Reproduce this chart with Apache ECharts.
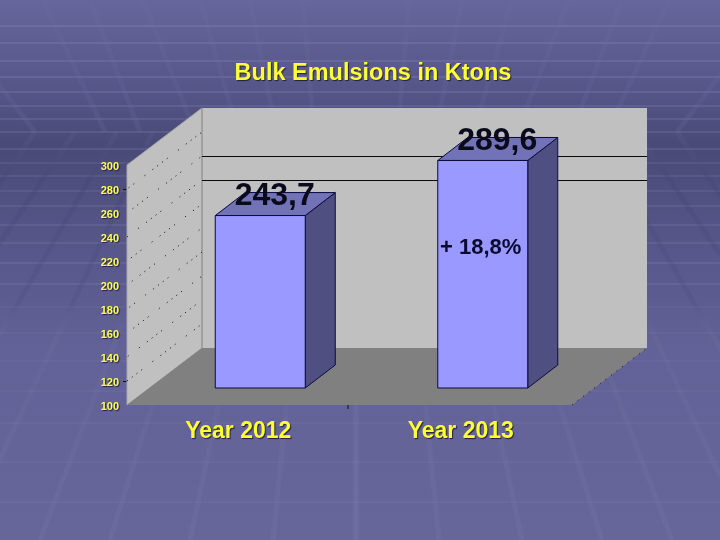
<!DOCTYPE html>
<html>
<head>
<meta charset="utf-8">
<style>html,body{margin:0;padding:0;background:#5f5f94}#c{width:720px;height:540px}</style>
<script src="https://cdn.jsdelivr.net/npm/echarts@6/dist/echarts.min.js"></script>
</head>
<body>
<div id="c"></div>
<script>
var categories = ['Year 2012', 'Year 2013'];
var bulkKtons = [243.7, 289.6];
var changeLabels = ['', '+ 18,8%'];
var wallSolidLines = [240, 260];
var wallDottedLines = [120, 140, 160, 180, 200, 220, 240, 260, 280];
var yTickMarks = [120, 280];

var FONT = '"Liberation Sans", Arial, sans-serif';
var YELLOW = '#ffff33';
var DEPTH_X = 75, DEPTH_Y = -57;
var BAR_W = 90, BAR_DX = 30, BAR_DY = -23, BAR_SHIFT_X = 22, BAR_SHIFT_Y = -17;
var OUTLINE = '#0a0a40';

// decorative slide backdrop
var HORIZON = 132, AXIS_MID = 356;
var bandsY = [26,43,61,77,92,106,119,132,149,163,176,191,206,225,243,263,284,307,333,361,391,423,462,502];
var upperRays = [[-65,35],[43,105],[90,140],[143,195],[200,238],[250,276],[303,314]];
var lowerRays = [[35,-242],[75,-202],[117,-119],[153,-38],[195,40],[238,110],[276,190],[314,273],[356,357]];

function backdrop() {
  var els = [{
    type: 'rect', z: -20, silent: true,
    shape: {x: 0, y: 0, width: 720, height: 540},
    style: {fill: new echarts.graphic.LinearGradient(0, 0, 0, 1, [
      {offset: 0, color: '#66669c'},
      {offset: 0.12, color: '#5a5a8e'},
      {offset: 0.27, color: '#4a4a78'},
      {offset: 0.45, color: '#565689'},
      {offset: 0.65, color: '#626298'},
      {offset: 1, color: '#66669b'}
    ])}
  }];
  bandsY.forEach(function (y) {
    var a = y < 150 ? 0.12 : y < 300 ? 0.09 : 0.04;
    els.push({type: 'line', z: -19, silent: true,
      shape: {x1: 0, y1: y, x2: 720, y2: y},
      style: {stroke: 'rgba(200,200,240,' + a + ')', lineWidth: 2}});
  });
  function ray(x1, y1, x2, y2, stroke, w) {
    [0, 1].forEach(function (m) {
      var f = function (x) { return m ? 2 * AXIS_MID - x : x; };
      els.push({type: 'line', z: -18, silent: true,
        shape: {x1: f(x1), y1: y1, x2: f(x2), y2: y2},
        style: {stroke: stroke, lineWidth: w}});
    });
  }
  upperRays.forEach(function (r) {
    ray(r[0], 0, r[1], HORIZON, 'rgba(110,110,165,0.2)', 5);
  });
  lowerRays.forEach(function (r) {
    var s = new echarts.graphic.LinearGradient(0, 0, 0, 1, [
      {offset: 0, color: 'rgba(110,110,165,0.16)'},
      {offset: 0.12, color: 'rgba(60,60,110,0.2)'},
      {offset: 0.42, color: 'rgba(60,60,110,0.14)'},
      {offset: 0.55, color: 'rgba(190,190,230,0.03)'},
      {offset: 1, color: 'rgba(190,190,230,0.05)'}
    ], false);
    ray(r[0], HORIZON, r[1], 540, s, 5);
  });
  return els;
}

function renderWalls(params, api) {
  var g = params.coordSys;
  var x0 = g.x, x1 = g.x + g.width, yb = g.y + g.height, yt = g.y;
  var bx0 = x0 + DEPTH_X, bx1 = x1 + DEPTH_X;
  var ch = [
    {type: 'polygon', shape: {points: [[bx0, yt + DEPTH_Y], [bx1, yt + DEPTH_Y], [bx1, yb + DEPTH_Y], [bx0, yb + DEPTH_Y]]}, style: {fill: '#c0c0c0'}},
    {type: 'polygon', shape: {points: [[x0, yt], [bx0, yt + DEPTH_Y], [bx0, yb + DEPTH_Y], [x0, yb]]}, style: {fill: '#c0c0c0', stroke: '#a8a8a8', lineWidth: 1}},
    {type: 'polygon', shape: {points: [[x0, yb], [x1, yb], [bx1, yb + DEPTH_Y], [bx0, yb + DEPTH_Y]]}, style: {fill: '#808080'}},
    {type: 'line', shape: {x1: bx0, y1: yt + DEPTH_Y, x2: bx0, y2: yb + DEPTH_Y}, style: {stroke: '#8c8c8c', lineWidth: 1}},
    {type: 'line', shape: {x1: x1, y1: yb, x2: bx1, y2: yb + DEPTH_Y}, style: {stroke: '#10103a', lineWidth: 1, lineDash: [1, 6]}}
  ];
  wallSolidLines.forEach(function (v) {
    var y = Math.round(api.coord([0, v])[1] + DEPTH_Y) + 0.5;
    ch.push({type: 'line', shape: {x1: bx0, y1: y, x2: bx1, y2: y}, style: {stroke: '#0a0a0a', lineWidth: 1}});
  });
  wallDottedLines.forEach(function (v, i) {
    var y = api.coord([0, v])[1];
    ch.push({type: 'line', shape: {x1: x0, y1: y, x2: bx0, y2: y + DEPTH_Y}, style: {
      stroke: '#000', lineWidth: 1, lineDash: [1, 5, 1, 5, 1, 5, 1, 13, 1, 9],
      lineDashOffset: i * 17}});
  });
  var mid = (api.coord([0, 100])[0] + api.coord([1, 100])[0]) / 2;
  ch.push({type: 'line', shape: {x1: mid - 1.5, y1: yb, x2: mid - 1.5, y2: yb + 4}, style: {stroke: '#111', lineWidth: 1}});
  return {type: 'group', children: ch};
}

function renderBar(params, api) {
  var i = api.value(0), v = api.value(1);
  var base = api.coord([i, 100]), top = api.coord([i, v]);
  var xl = base[0] + BAR_SHIFT_X - BAR_W / 2, xr = xl + BAR_W;
  var yb = base[1] + BAR_SHIFT_Y, yt = top[1] + BAR_SHIFT_Y;
  var line = {stroke: OUTLINE, lineWidth: 1, lineJoin: 'round'};
  function st(fill) { return Object.assign({fill: fill}, line); }
  var ch = [
    {type: 'polygon', shape: {points: [[xr, yt], [xr + BAR_DX, yt + BAR_DY], [xr + BAR_DX, yb + BAR_DY], [xr, yb]]}, style: st('#4f4f82')},
    {type: 'polygon', shape: {points: [[xl, yt], [xl + BAR_DX, yt + BAR_DY], [xr + BAR_DX, yt + BAR_DY], [xr, yt]]}, style: st('#7272b6')},
    {type: 'polygon', shape: {points: [[xl, yt], [xr, yt], [xr, yb], [xl, yb]]}, style: st('#9999ff')},
    {type: 'text', style: {x: xl + BAR_W / 2 + 14.5, y: yt - 19.5, text: v.toFixed(1).replace('.', ','),
      fill: '#0a0a1c', font: 'bold 32px ' + FONT, textAlign: 'center', textVerticalAlign: 'middle'}}
  ];
  if (changeLabels[i]) {
    ch.push({type: 'text', style: {x: xl + BAR_W / 2 - 2, y: yt + 87, text: changeLabels[i],
      fill: '#0a0a30', font: 'bold 22px ' + FONT, textAlign: 'center', textVerticalAlign: 'middle'}});
  }
  return {type: 'group', children: ch};
}

var chart = echarts.init(document.getElementById('c'), null, {renderer: 'canvas'});
chart.setOption({
  animation: false,
  backgroundColor: 'transparent',
  graphic: backdrop(),
  title: {
    text: 'Bulk Emulsions in Ktons',
    left: 368, top: 57, textAlign: 'center',
    textStyle: {color: YELLOW, fontFamily: FONT, fontWeight: 'bold', fontSize: 23.5,
      textShadowColor: '#20203c', textShadowBlur: 1, textShadowOffsetX: 1, textShadowOffsetY: 1}
  },
  grid: {left: 127, top: 165, width: 445, height: 240},
  xAxis: {
    type: 'category', data: categories,
    axisLine: {show: false}, axisTick: {show: false},
    axisLabel: {color: YELLOW, fontFamily: FONT, fontWeight: 'bold', fontSize: 23, margin: 15,
      textShadowColor: '#20203c', textShadowBlur: 1, textShadowOffsetX: 1, textShadowOffsetY: 1}
  },
  yAxis: {
    type: 'value', min: 100, max: 300, interval: 20,
    splitLine: {show: false}, axisLine: {show: false},
    axisTick: {show: true, length: 4, customValues: yTickMarks, lineStyle: {color: '#111'}},
    axisLabel: {color: '#ffff55', fontFamily: FONT, fontWeight: 'bold', fontSize: 11, margin: 8, verticalAlign: 'top', lineHeight: 4,
      textShadowColor: '#20203c', textShadowBlur: 1, textShadowOffsetX: 1, textShadowOffsetY: 1}
  },
  series: [
    {type: 'custom', name: 'walls', coordinateSystem: 'cartesian2d', z: 1, silent: true,
      data: [[0, 100]], renderItem: renderWalls, encode: {x: 0, y: 1}},
    {type: 'custom', name: 'Bulk Emulsions', coordinateSystem: 'cartesian2d', z: 2, silent: true,
      data: bulkKtons.map(function (v, i) { return [i, v]; }), renderItem: renderBar, encode: {x: 0, y: 1}}
  ]
});
</script>
</body>
</html>
